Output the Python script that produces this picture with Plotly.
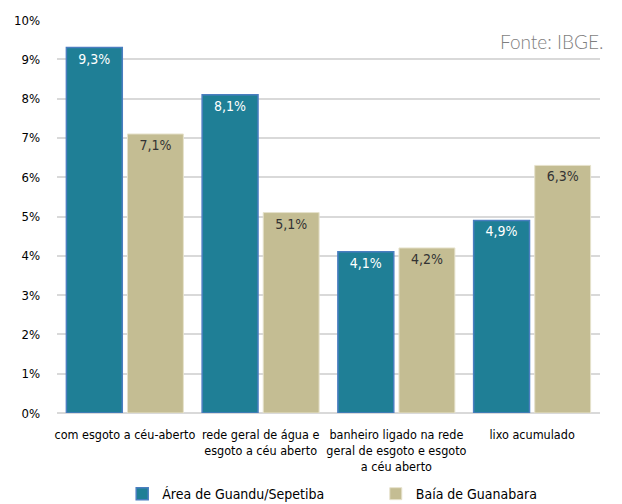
import plotly.graph_objects as go

# Data
categories = [
    "com esgoto a céu-aberto",
    "rede geral de água e<br>esgoto a céu aberto",
    "banheiro ligado na rede<br>geral de esgoto e esgoto<br>a céu aberto",
    "lixo acumulado",
]
guandu = [9.3, 8.1, 4.1, 4.9]
guanabara = [7.1, 5.1, 4.2, 6.3]
tick_vals = [0, 1, 2, 3, 4, 5, 6, 7, 8, 9, 10]
tick_text = [f"{v}%" for v in tick_vals]

FONT = "Liberation Sans Narrow, DejaVu Sans Condensed, Arial Narrow, sans-serif"

# the page body has an 8px default margin, so the figure is 8px smaller
W, H = 614, 496


def fmt(v):
    return f"{v:.1f}".replace(".", ",") + "%"


fig = go.Figure()

fig.add_trace(go.Bar(
    x=categories,
    y=guandu,
    name="Área de Guandu/Sepetiba",
    legend="legend",
    marker=dict(color="#1f7f96", line=dict(color="#4a7ec0", width=1.5)),
    text=[fmt(v) for v in guandu],
    textposition="inside",
    insidetextanchor="end",
    textfont=dict(color="white", size=14, family=FONT),
))

fig.add_trace(go.Bar(
    x=categories,
    y=guanabara,
    name="Baía de Guanabara",
    legend="legend2",
    marker=dict(color="#c4bd93", line=dict(color="#e6e2cc", width=1)),
    text=[fmt(v) for v in guanabara],
    textposition="inside",
    insidetextanchor="end",
    textfont=dict(color="#333333", size=14, family=FONT),
))

fig.add_annotation(
    text="Fonte: IBGE.",
    xref="paper", yref="paper",
    x=1.01, y=0.945,
    xanchor="right", yanchor="middle",
    showarrow=False,
    font=dict(size=19, color="#7f7f7f", family="Lato, sans-serif", weight=300),
)

# Legends placed in container coords so they don't push the margins
legend_style = dict(
    orientation="h",
    xref="container", yref="container",
    y=0.02,
    xanchor="left", yanchor="middle",
    font=dict(size=14, family=FONT),
    bgcolor="rgba(0,0,0,0)",
    itemwidth=30,
)

fig.update_layout(
    width=W,
    height=H,
    margin=dict(l=49, r=22, t=12, b=91, autoexpand=False),
    plot_bgcolor="white",
    paper_bgcolor="white",
    barmode="group",
    bargap=0.1,
    bargroupgap=0.085,
    font=dict(family=FONT, color="black", size=13),
    xaxis=dict(
        showgrid=False,
        showline=False,
        ticks="",
        tickfont=dict(size=12.5),
        tickangle=0,
        automargin=False,
        ticklabelstandoff=12,
    ),
    yaxis=dict(
        range=[0, 10],
        tickvals=tick_vals,
        ticktext=tick_text,
        showgrid=True,
        gridcolor="#d9d9d9",
        gridwidth=1.5,
        zeroline=True,
        zerolinecolor="#d9d9d9",
        zerolinewidth=1.5,
        showline=False,
        tickfont=dict(size=13),
        ticks="",
        ticklabelstandoff=16,
        automargin=False,
    ),
    showlegend=True,
    legend=dict(x=0.186, **legend_style),
    legend2=dict(x=0.599, **legend_style),
)

fig.write_html("out.html")
